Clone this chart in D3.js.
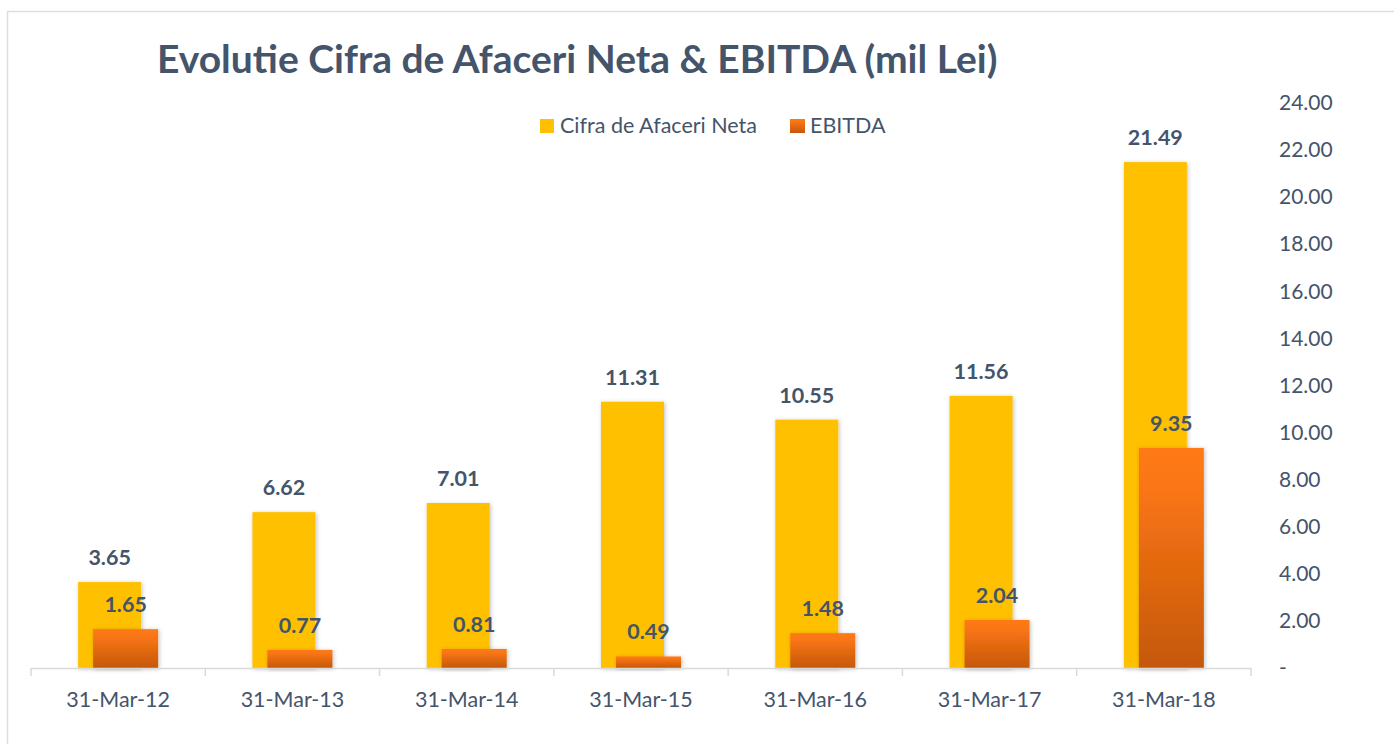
<!DOCTYPE html>
<html>
<head>
<meta charset="utf-8">
<script src="https://cdn.jsdelivr.net/npm/d3@7"></script>
<style>
  body { margin: 0; background: #fff; }
  text { font-family: Lato, "Open Sans", sans-serif; fill: #44546a; }
</style>
</head>
<body>
<svg id="chart" width="1394" height="744"></svg>
<script>
var categories = ["31-Mar-12", "31-Mar-13", "31-Mar-14", "31-Mar-15", "31-Mar-16", "31-Mar-17", "31-Mar-18"];
var cifraAfaceri = [3.65, 6.62, 7.01, 11.31, 10.55, 11.56, 21.49];
var ebitda = [1.65, 0.77, 0.81, 0.49, 1.48, 2.04, 9.35];
var yTicks = [0, 2, 4, 6, 8, 10, 12, 14, 16, 18, 20, 22, 24];
var seriesNames = ["Cifra de Afaceri Neta", "EBITDA"];

var svg = d3.select("#chart");

// gradient + shadow
var defs = svg.append("defs");
var grad = defs.append("linearGradient")
    .attr("id", "orangeGrad")
    .attr("x1", 0).attr("y1", 0).attr("x2", 0).attr("y2", 1);
grad.append("stop").attr("offset", "0%").attr("stop-color", "#ff7a14");
grad.append("stop").attr("offset", "20%").attr("stop-color", "#f97513");
grad.append("stop").attr("offset", "100%").attr("stop-color", "#c4580e");

var shadow = defs.append("filter")
    .attr("id", "shadow")
    .attr("x", "-20%").attr("y", "-20%").attr("width", "140%").attr("height", "140%");
shadow.append("feDropShadow")
    .attr("dx", 1).attr("dy", 1).attr("stdDeviation", 2)
    .attr("flood-color", "#000").attr("flood-opacity", 0.25);

// outer frame
svg.append("rect")
    .attr("x", 7.5).attr("y", 11.5)
    .attr("width", 1400).attr("height", 760)
    .attr("fill", "none")
    .attr("stroke", "#d9dfe6")
    .attr("stroke-width", 1.5);

var x = d3.scaleBand().domain(categories).range([31, 1251]).padding(0);
var y = d3.scaleLinear().domain([0, 24]).range([668, 103]);

// title
svg.append("text")
    .attr("x", 157)
    .attr("y", 73)
    .style("font-size", "39px")
    .style("font-weight", "bold")
    .text("Evolutie Cifra de Afaceri Neta & EBITDA (mil Lei)");

// legend
var legend = svg.append("g").attr("transform", "translate(540,119)");
legend.append("rect").attr("x", 0).attr("y", 0).attr("width", 14).attr("height", 14).attr("fill", "#ffc000");
legend.append("text").attr("x", 20).attr("y", 14).style("font-size", "21.5px").text(seriesNames[0]);
legend.append("rect").attr("x", 250).attr("y", 0).attr("width", 15).attr("height", 14).attr("fill", "url(#orangeGrad)");
legend.append("text").attr("x", 270).attr("y", 14).style("font-size", "21.5px").text(seriesNames[1]);

// right y axis labels
var yAxis = d3.axisRight(y)
    .tickValues(yTicks)
    .tickSize(0)
    .tickPadding(0)
    .tickFormat(d => d === 0 ? "-" : d3.format(".2f")(d));
var yG = svg.append("g")
    .attr("transform", "translate(1279,0)")
    .call(yAxis);
yG.select(".domain").remove();
yG.selectAll("text")
    .style("font-size", "21px")
    .style("font-family", "Lato, sans-serif")
    .attr("fill", "#44546a");

// bars
var bars = svg.append("g");
bars.selectAll(".bar-cifra")
    .data(cifraAfaceri)
    .enter().append("rect")
    .attr("class", "bar-cifra")
    .attr("x", (d, i) => x(categories[i]) + x.bandwidth() / 2 - 40)
    .attr("y", d => y(d))
    .attr("width", 63)
    .attr("height", d => y(0) - y(d))
    .attr("fill", "#ffc000")
    .attr("filter", "url(#shadow)");

bars.selectAll(".bar-ebitda")
    .data(ebitda)
    .enter().append("rect")
    .attr("class", "bar-ebitda")
    .attr("x", (d, i) => x(categories[i]) + x.bandwidth() / 2 - 25)
    .attr("y", d => y(d))
    .attr("width", 65)
    .attr("height", d => y(0) - y(d))
    .attr("fill", "url(#orangeGrad)")
    .attr("filter", "url(#shadow)");

// value labels
svg.selectAll(".lbl-cifra")
    .data(cifraAfaceri)
    .enter().append("text")
    .attr("class", "lbl-cifra")
    .attr("x", (d, i) => x(categories[i]) + x.bandwidth() / 2 - 8.5)
    .attr("y", d => y(d) - 17)
    .attr("text-anchor", "middle")
    .style("font-size", "21.5px")
    .style("font-weight", "bold")
    .text(d => d3.format(".2f")(d));

svg.selectAll(".lbl-ebitda")
    .data(ebitda)
    .enter().append("text")
    .attr("class", "lbl-ebitda")
    .attr("x", (d, i) => x(categories[i]) + x.bandwidth() / 2 + 7.5)
    .attr("y", d => y(d) - 17)
    .attr("text-anchor", "middle")
    .style("font-size", "21.5px")
    .style("font-weight", "bold")
    .text(d => d3.format(".2f")(d));

// x axis with ticks at category boundaries
var xG = svg.append("g");
xG.append("line")
    .attr("x1", 31).attr("x2", 1251)
    .attr("y1", 668.5).attr("y2", 668.5)
    .attr("stroke", "#d9d9d9")
    .attr("stroke-width", 1.5);
var bounds = categories.map(c => x(c)).concat([x.range()[1]]);
xG.selectAll(".tick-line")
    .data(bounds)
    .enter().append("line")
    .attr("class", "tick-line")
    .attr("x1", d => d).attr("x2", d => d)
    .attr("y1", 668).attr("y2", 676)
    .attr("stroke", "#d9d9d9")
    .attr("stroke-width", 1.5);
xG.selectAll(".cat-label")
    .data(categories)
    .enter().append("text")
    .attr("class", "cat-label")
    .attr("x", d => x(d) + x.bandwidth() / 2)
    .attr("y", 707)
    .attr("text-anchor", "middle")
    .style("font-size", "21.5px")
    .text(d => d);
</script>
</body>
</html>
